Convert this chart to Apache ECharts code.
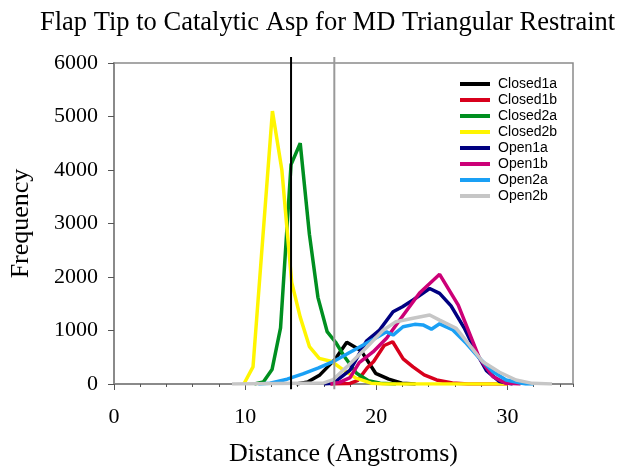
<!DOCTYPE html>
<html>
<head>
<meta charset="utf-8">
<script src="https://cdn.jsdelivr.net/npm/echarts@6/dist/echarts.min.js"></script>
<style>
  html, body { margin: 0; padding: 0; background: #fff; }
  #chart { width: 618px; height: 467px; }
</style>
</head>
<body>
<div id="chart"></div>
<script>
// Distance histograms, [distance (Å), frequency] pairs per simulation
const closed1a = [[13.9,0],[14.8,40],[15.7,170],[16.85,460],[17.75,780],[18.85,620],[19.95,200],[20.95,90],[21.95,15],[23.0,0]];
const closed1b = [[16.5,0],[18.0,10],[18.6,70],[19.3,300],[19.8,420],[20.6,720],[21.25,790],[22.05,470],[22.8,320],[23.65,170],[24.6,75],[25.8,20],[27.0,0],[30.0,0]];
const closed2a = [[10.7,0],[11.4,40],[12.05,270],[12.7,1050],[13.5,4100],[14.2,4500],[14.9,2800],[15.55,1620],[16.25,980],[16.9,780],[17.55,520],[18.5,200],[19.4,60],[20.3,15],[21.5,0]];
const closed2b = [[9.9,0],[10.6,320],[12.08,5100],[12.8,4000],[13.55,1900],[14.2,1250],[14.9,700],[15.65,480],[16.6,420],[17.45,270],[18.45,110],[19.6,15],[20.5,0],[30.0,0]];
const open1a = [[16.0,0],[16.7,12],[18.0,260],[19.25,800],[20.25,1010],[21.28,1350],[22.0,1445],[22.8,1570],[24.07,1785],[24.83,1695],[25.7,1460],[26.7,1050],[27.6,600],[28.4,250],[29.4,45],[30.4,0]];
const open1b = [[16.5,0],[17.2,30],[18.0,120],[18.7,400],[19.75,600],[20.8,860],[21.8,1200],[23.3,1700],[24.83,2050],[26.25,1476],[27.87,480],[28.9,137],[29.9,12],[31.0,0]];
const open2a = [[11.0,0],[11.9,15],[13.2,90],[14.4,190],[15.6,300],[16.7,417],[17.9,580],[19.0,730],[20.1,880],[20.78,975],[21.28,915],[22.04,1070],[22.93,1115],[23.56,1105],[24.2,1025],[24.83,1125],[25.84,1010],[26.86,760],[27.87,480],[28.9,230],[29.9,75],[31.4,0],[32.0,0]];
const open2b = [[9.0,0],[16.0,20],[16.7,80],[17.75,320],[19.25,680],[20.5,1000],[21.5,1165],[22.8,1230],[24.07,1290],[24.83,1195],[26.1,1040],[27.1,730],[28.1,420],[29.4,220],[30.66,75],[31.9,12],[33.4,0]];

// Reference distances marked as vertical lines
const markerBlack = 13.5;
const markerGray = 16.8;

const seriesNames = ['Closed1a','Closed1b','Closed2a','Closed2b','Open1a','Open1b','Open2a','Open2b'];
const seriesData = [closed1a, closed1b, closed2a, closed2b, open1a, open1b, open2a, open2b];
const seriesColors = ['#000000','#d8001c','#008f20','#fff500','#000080','#cc0077','#1aa0f5','#c6c6c6'];

const serif = 'Liberation Serif';
const axisGray = '#8a8a8a';

const chart = echarts.init(document.getElementById('chart'), null, { renderer: 'canvas' });

const series = seriesNames.map((name, i) => ({
  name: name,
  type: 'line',
  xAxisIndex: 0,
  data: seriesData[i],
  symbol: 'none',
  lineStyle: { width: 3.5, color: seriesColors[i] },
  itemStyle: { color: seriesColors[i] },
  emphasis: { disabled: true },
  z: 3 + i * 0.01
}));

function markerSeries(x, color) {
  return {
    type: 'line',
    xAxisIndex: 0,
    data: [[x, -100], [x, 6110]],
    symbol: 'none',
    clip: false,
    silent: true,
    lineStyle: { width: 2, color: color },
    emphasis: { disabled: true },
    z: 5
  };
}
series.push(markerSeries(markerBlack, '#000000'));
series.push(markerSeries(markerGray, '#999999'));

chart.setOption({
  animation: false,
  backgroundColor: '#ffffff',
  title: {
    text: 'Flap Tip to Catalytic Asp for MD Triangular Restraint',
    left: 35,
    top: 5,
    textStyle: { fontFamily: serif, fontSize: 26.5, fontWeight: 'normal', color: '#000' }
  },
  legend: {
    orient: 'vertical',
    left: 460,
    top: 76,
    padding: 0,
    icon: 'rect',
    itemWidth: 30,
    itemHeight: 4,
    itemGap: 0,
    data: seriesNames,
    textStyle: { fontFamily: 'Liberation Sans', fontSize: 14, lineHeight: 16, color: '#000', padding: [0, 0, 0, 3] }
  },
  grid: {
    left: 114, right: 45, top: 63, bottom: 83,
    outerBoundsMode: 'none',
    containLabel: false,
    show: true, borderColor: axisGray, borderWidth: 1.5, backgroundColor: 'transparent'
  },
  xAxis: [
    {
      type: 'value', min: 0, max: 35, interval: 2, position: 'bottom',
      axisLine: { show: true, lineStyle: { color: axisGray, width: 2 } },
      axisTick: { show: true, length: 3, lineStyle: { color: '#555' } },
      axisLabel: { show: false },
      splitLine: { show: false }
    },
    {
      type: 'value', min: 0, max: 35, interval: 10, position: 'bottom',
      axisLine: { show: false },
      axisTick: { show: true, length: 6, lineStyle: { color: '#555' } },
      axisLabel: { show: true, margin: 22, showMaxLabel: false, fontFamily: serif, fontSize: 22, color: '#000' },
      splitLine: { show: false },
      name: 'Distance (Angstroms)',
      nameLocation: 'middle',
      nameGap: 57,
      nameTextStyle: { fontFamily: serif, fontSize: 26, color: '#000' }
    }
  ],
  yAxis: {
    type: 'value', min: 0, max: 6000, interval: 1000,
    axisLine: { show: true, lineStyle: { color: axisGray, width: 2 } },
    axisTick: { show: true, length: 6, lineStyle: { color: '#555' } },
    axisLabel: { margin: 16, fontFamily: serif, fontSize: 22, color: '#000', formatter: v => String(v) },
    splitLine: { show: false },
    name: 'Frequency',
    nameLocation: 'middle',
    nameGap: 80,
    nameTextStyle: { fontFamily: serif, fontSize: 26, color: '#000' }
  },
  series: series
});
</script>
</body>
</html>
